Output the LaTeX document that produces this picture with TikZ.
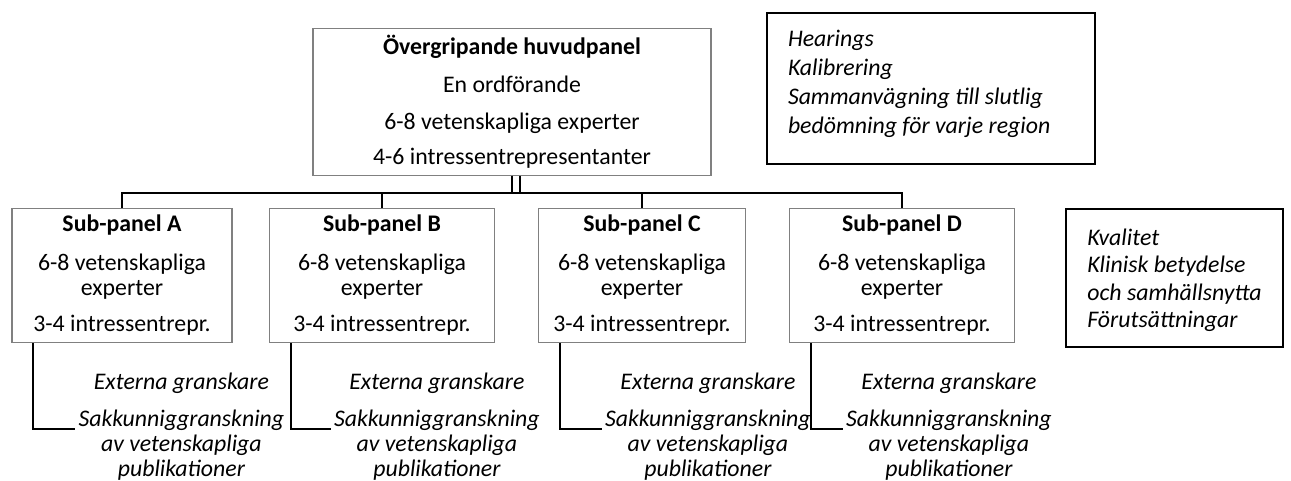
\documentclass[tikz,border=0pt]{standalone}
\usepackage{fontspec}
\setmainfont{Carlito}
\begin{document}
\begin{tikzpicture}[level distance=86.75pt, sibling distance=130pt,
	mainbox/.style={draw=gray, line width=0.6pt, align=center, minimum width=199pt, minimum height=70pt, font=\fontsize{11.9pt}{12.5pt}\selectfont},
	panel/.style={draw=gray, line width=0.6pt, align=center, minimum height=67pt, inner sep=0pt, font=\fontsize{11.9pt}{12.5pt}\selectfont},
	note/.style={align=center, inner sep=1.5pt, font=\fontsize{11.9pt}{12.5pt}\selectfont\itshape},
	sidebox/.style={draw, line width=1pt, font=\fontsize{11.9pt}{#1}\selectfont\itshape},
	wire/.style={line width=1pt},
	edge from parent/.style={draw, wire},
	edge from parent path={(\tikzparentnode.south) -- +(0,-8.5pt) -| (\tikzchildnode.north)}]
	\useasboundingbox (0,0) rectangle (645.5pt,-240.5pt);
	\node [mainbox] (z) at (256pt,-51pt) {\textbf{Övergripande huvudpanel}\\[6.5pt]En ordförande\\[6pt]6-8 vetenskapliga experter\\[5pt]4-6 intressentrepresentanter}
	child {node [panel, minimum width=110pt] (pa) {\textbf{Sub-panel A}\\[7pt]6-8 vetenskapliga\\experter\\[5.5pt]3-4 intressentrepr.}}
	child {node [panel, minimum width=112.5pt] (pb) {\textbf{Sub-panel B}\\[7pt]6-8 vetenskapliga\\experter\\[5.5pt]3-4 intressentrepr.}}
	child {node [panel, minimum width=103.5pt] (pc) {\textbf{Sub-panel C}\\[7pt]6-8 vetenskapliga\\experter\\[5.5pt]3-4 intressentrepr.}}
	child {node [panel, minimum width=112.5pt] (pd) {\textbf{Sub-panel D}\\[7pt]6-8 vetenskapliga\\experter\\[5.5pt]3-4 intressentrepr.}};
	\draw [wire] ([xshift=4pt]z.south) -- ++(0,-8.5pt);
	% externa granskare under varje sub-panel
	\node [note] (na) at ([shift={(85pt,-42pt)}]pa.south west) {Externa granskare\\[6pt]Sakkunniggranskning\\av vetenskapliga\\publikationer};
	\node [note] (nb) at ([shift={(84pt,-42pt)}]pb.south west) {Externa granskare\\[6pt]Sakkunniggranskning\\av vetenskapliga\\publikationer};
	\node [note] (nc) at ([shift={(85pt,-42pt)}]pc.south west) {Externa granskare\\[6pt]Sakkunniggranskning\\av vetenskapliga\\publikationer};
	\node [note] (nd) at ([shift={(80pt,-42pt)}]pd.south west) {Externa granskare\\[6pt]Sakkunniggranskning\\av vetenskapliga\\publikationer};
	\draw [wire] ([xshift=11pt]pa.south west) |- ([yshift=-0.75pt]na.west);
	\draw [wire] ([xshift=11pt]pb.south west) |- ([yshift=-0.75pt]nb.west);
	\draw [wire] ([xshift=11pt]pc.south west) |- ([yshift=-0.75pt]nc.west);
	\draw [wire] ([xshift=11pt]pd.south west) |- ([yshift=-0.75pt]nd.west);
	% rutor till hoger
	\node [sidebox=14.5pt, text width=143pt, align=flush left, inner xsep=10.5pt, text depth=50pt, minimum height=75.5pt] (h) at (465.5pt,-44.25pt) {Hearings\\Kalibrering\\Sammanvägning till slutlig\\bedömning för varje region};
	\node [sidebox=13.75pt, align=left, inner xsep=10.75pt, text depth=0pt, minimum height=69pt] (k) at (587.25pt,-139pt) {Kvalitet\\Klinisk betydelse\\och samhällsnytta\\Förutsättningar};
\end{tikzpicture}
\end{document}
